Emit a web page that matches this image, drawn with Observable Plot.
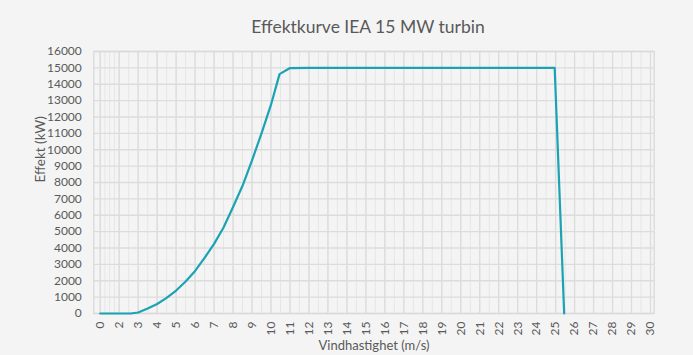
<!DOCTYPE html>
<html>
<head>
<meta charset="utf-8">
<script src="https://cdn.jsdelivr.net/npm/d3@7"></script>
<script src="https://cdn.jsdelivr.net/npm/@observablehq/plot@0.6"></script>
<style>
  html, body { margin: 0; padding: 0; background: #f4f4f4; }
  #chart svg { display: block; }
</style>
</head>
<body>
<div id="chart"></div>
<script>
// Wind speed (m/s) and power (kW)
const windSpeed = [0, 2, 2.6, 3, 3.5, 4, 4.5, 5, 5.5, 6, 6.5, 7, 7.5, 8, 8.5, 9, 9.5, 10, 10.45, 10.98, 12, 14, 16, 18, 20, 22, 24, 24.95, 25.45];
const power     = [0, 0, 0, 60, 300, 580, 950, 1400, 1950, 2600, 3400, 4250, 5250, 6500, 7800, 9350, 11000, 12750, 14620, 14980, 15000, 15000, 15000, 15000, 15000, 15000, 15000, 15000, 0];

// Tick labels
const xTickValues = [0, ...d3.range(2, 31)];
const yTickValues = d3.range(0, 16001, 1000);
const xGridMinor = d3.range(0, 30.01, 0.5);

const data = windSpeed.map((v, i) => ({ws: v, p: power[i]}));

const font = "Lato, 'Open Sans', sans-serif";
const textColor = "#595959";

const chart = Plot.plot({
  width: 693,
  height: 355,
  marginLeft: 93.3,
  marginRight: 39.3,
  marginTop: 51,
  marginBottom: 42,
  style: { background: "#f4f4f4", fontFamily: font, color: textColor },
  x: { type: "linear", domain: [0, 2, 30], range: [99.7, 118.7, 650] },
  y: { domain: [0, 16000] },
  marks: [
    Plot.ruleX(xGridMinor, { stroke: "#e6e6e6", strokeWidth: 1 }),
    Plot.ruleX(xTickValues, { stroke: "#dcdcdc", strokeWidth: 1.3 }),
    Plot.ruleY(yTickValues, { stroke: "#dcdcdc", strokeWidth: 1.3 }),
    Plot.frame({ stroke: "#d9d9d9", strokeWidth: 1.3 }),
    Plot.axisY({ ticks: yTickValues, tickSize: 0, tickPadding: 12, tickFormat: d => String(d), fontSize: 12, fill: textColor, label: null }),
    Plot.axisX({ ticks: xTickValues, tickSize: 0, tickPadding: 8, tickRotate: -90, tickFormat: d => String(d), fontSize: 12, fill: textColor, label: null }),
    Plot.line(data, { x: "ws", y: "p", stroke: "#1ba3b4", strokeWidth: 2.2, strokeLinejoin: "round" }),
    Plot.text(["Effektkurve IEA 15 MW turbin"], { frameAnchor: "top", dy: -31, dx: -6, fontSize: 17.5, fill: textColor, text: d => d }),
    Plot.text(["Vindhastighet (m/s)"], { frameAnchor: "bottom", dy: 36, fontSize: 13, fill: textColor, text: d => d }),
    Plot.text(["Effekt (kW)"], { frameAnchor: "left", dx: -53, rotate: -90, fontSize: 13.5, fill: textColor, text: d => d })
  ]
});
document.getElementById("chart").appendChild(chart);
</script>
</body>
</html>
